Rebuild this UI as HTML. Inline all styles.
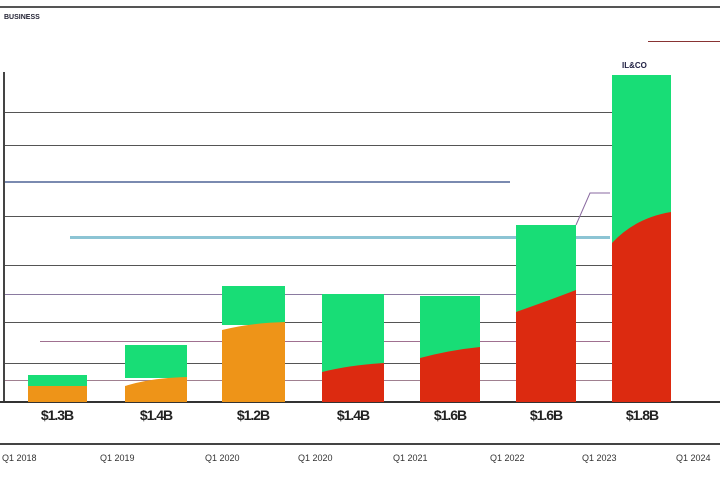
<!DOCTYPE html>
<html><head><style>
body{margin:0;width:720px;height:480px;background:#fff;overflow:hidden;position:relative;font-family:"Liberation Sans",sans-serif}
.a{position:absolute}
.g{position:absolute;height:1px;background:#555}
.lbl{position:absolute;top:407px;font-size:14px;font-weight:bold;color:#222;width:60px;text-align:center;letter-spacing:-1px}
.bt{position:absolute;top:453px;font-size:9px;color:#333}
</style></head><body>
<div class="a" style="left:0;top:6px;width:720px;height:2px;background:#555"></div>
<div class="a" style="left:4px;top:14px;font-size:7px;color:#223;font-weight:bold">BUSINESS</div>
<div class="a" style="left:648px;top:41px;width:72px;height:1px;background:#833"></div>
<div class="a" style="left:3px;top:72px;width:2px;height:330px;background:#444"></div>
<div class="g" style="left:5px;top:112px;width:610px"></div>
<div class="g" style="left:5px;top:145px;width:610px"></div>
<div class="g" style="left:5px;top:181px;width:505px;height:2px;background:#7a8ab0"></div>
<div class="g" style="left:5px;top:216px;width:610px"></div>
<div class="g" style="left:70px;top:236px;width:540px;height:3px;background:#8cc4d4"></div>
<div class="g" style="left:5px;top:265px;width:610px"></div>
<div class="g" style="left:5px;top:294px;width:610px;background:#8a7aa0"></div>
<div class="g" style="left:5px;top:322px;width:610px"></div>
<div class="g" style="left:40px;top:341px;width:570px;background:#a07090"></div>
<div class="g" style="left:5px;top:363px;width:610px"></div>
<div class="g" style="left:5px;top:380px;width:610px;background:#a08090"></div>
<div class="a" style="left:0;top:401px;width:720px;height:2px;background:#333"></div>
<svg class="a" style="left:0;top:0" width="720" height="480">
<rect x="28" y="375" width="59" height="11" fill="#18dd76"/><rect x="28" y="386" width="59" height="16" fill="#ee9418"/>
<rect x="125" y="345" width="62" height="33" fill="#18dd76"/><path d="M125 386 Q150 378 187 377 V402 H125Z" fill="#ee9418"/>
<rect x="222" y="286" width="63" height="39" fill="#18dd76"/><path d="M222 330 Q250 323 285 322 V402 H222Z" fill="#ee9418"/>
<rect x="322" y="294" width="62" height="108" fill="#18dd76"/><path d="M322 372 Q350 365 384 363 V402 H322Z" fill="#dc2a10"/>
<rect x="420" y="296" width="60" height="106" fill="#18dd76"/><path d="M420 358 Q450 350 480 347 V402 H420Z" fill="#dc2a10"/>
<rect x="516" y="225" width="60" height="177" fill="#18dd76"/><path d="M516 312 Q550 300 576 290 V402 H516Z" fill="#dc2a10"/>
<rect x="612" y="75" width="59" height="327" fill="#18dd76"/><path d="M612 243 Q635 218 671 212 V402 H612Z" fill="#dc2a10"/>
<path d="M576 225 L590 193 H610" stroke="#8a6aa0" fill="none"/>
</svg>
<div class="a" style="left:622px;top:61px;font-size:8px;font-weight:bold;color:#224">IL&amp;CO</div>
<div class="lbl" style="left:27px">$1.3B</div>
<div class="lbl" style="left:126px">$1.4B</div>
<div class="lbl" style="left:223px">$1.2B</div>
<div class="lbl" style="left:323px">$1.4B</div>
<div class="lbl" style="left:420px">$1.6B</div>
<div class="lbl" style="left:516px">$1.6B</div>
<div class="lbl" style="left:612px">$1.8B</div>
<div class="a" style="left:0;top:443px;width:720px;height:2px;background:#444"></div>
<div class="bt" style="left:2px">Q1 2018</div><div class="bt" style="left:100px">Q1 2019</div>
<div class="bt" style="left:205px">Q1 2020</div><div class="bt" style="left:298px">Q1 2020</div>
<div class="bt" style="left:393px">Q1 2021</div><div class="bt" style="left:490px">Q1 2022</div>
<div class="bt" style="left:582px">Q1 2023</div><div class="bt" style="left:676px">Q1 2024</div>
</body></html>
